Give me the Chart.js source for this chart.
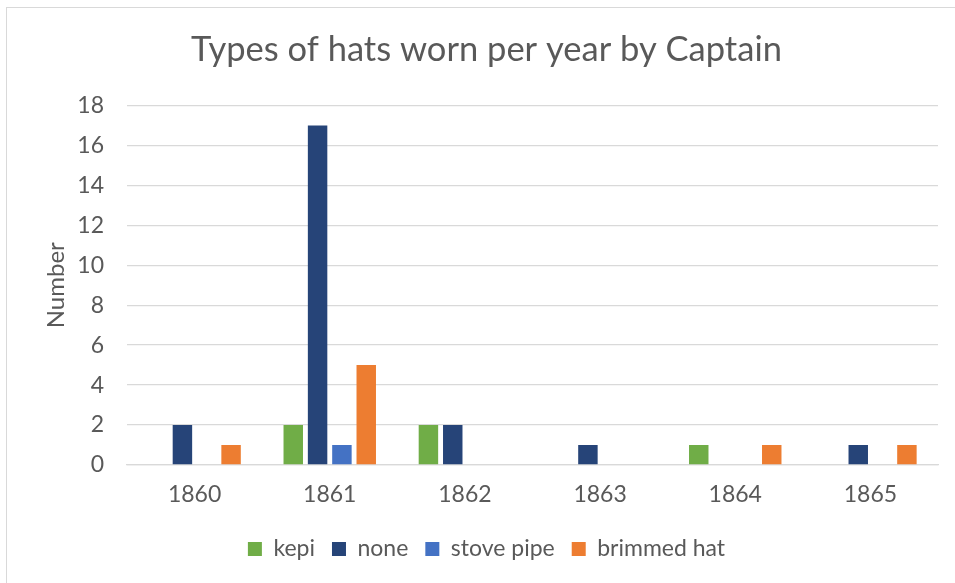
<!DOCTYPE html>
<html><head><meta charset="utf-8">
<script src="https://cdn.jsdelivr.net/npm/chart.js@4/dist/chart.umd.min.js"></script>
<style>
html,body{margin:0;padding:0;background:#fff;overflow:hidden;width:955px;height:583px}
#frame{position:absolute;left:6px;top:7px;width:1200px;height:900px;border:1px solid #D9D9D9;box-sizing:border-box}
#c{position:absolute;left:0;top:0}
</style></head><body>
<div id="frame"></div>
<canvas id="c" width="955" height="583"></canvas>
<script>
const categories = ['1860', '1861', '1862', '1863', '1864', '1865'];
const kepi       = [0, 2, 2, 0, 1, 0];
const none       = [2, 17, 2, 1, 0, 1];
const stovePipe  = [0, 1, 0, 0, 0, 0];
const brimmedHat = [1, 5, 0, 0, 1, 1];
const seriesNames = ['kepi', 'none', 'stove pipe', 'brimmed hat'];
const yMin = 0, yMax = 18, yStep = 2;
const chartTitle = 'Types of hats worn per year by Captain';
const yTitle = 'Number';

const TXT = '#595959', GRID = '#D9D9D9', FONT = 'Lato';
const colors = ['#70AD47', '#264478', '#4472C4', '#ED7D31'];
const values = [kepi, none, stovePipe, brimmedHat];

function build() {
  new Chart(document.getElementById('c'), {
    type: 'bar',
    data: {
      labels: categories,
      datasets: seriesNames.map((n, i) => ({
        label: n, data: values[i], backgroundColor: colors[i], borderWidth: 0,
        categoryPercentage: 0.72, barPercentage: 0.8
      }))
    },
    options: {
      responsive: false, animation: false,
      layout: { padding: { top: 0, left: 35, right: 17, bottom: 12.5 } },
      plugins: {
        tooltip: { enabled: false },
        title: { display: true, text: chartTitle, color: TXT,
          font: { family: FONT, size: 34.5, weight: 'normal' }, padding: { top: 29, bottom: 35 } },
        legend: { position: 'bottom',
          labels: { color: TXT, font: { family: FONT, size: 23 }, boxWidth: 14, boxHeight: 14, padding: 17 } }
      },
      scales: {
        x: {
          grid: { display: false, drawTicks: false },
          border: { display: true, color: GRID, width: 1.3 },
          ticks: { color: TXT, font: { family: FONT, size: 23 }, padding: 16 },
          afterFit: s => { s.height = 55.5; }
        },
        y: {
          min: yMin, max: yMax,
          grid: { color: GRID, lineWidth: 1.3, drawTicks: false },
          border: { display: false },
          ticks: { stepSize: yStep, color: TXT, font: { family: FONT, size: 23 }, padding: 23 },
          title: { display: true, text: yTitle, color: TXT, font: { family: FONT, size: 24 }, padding: { top: 6.6, bottom: 0 } },
          afterFit: s => { s.width = 92; }
        }
      }
    }
  });
}
(document.fonts ? document.fonts.load('20px Lato').then(build, build) : build());
</script>
</body></html>
